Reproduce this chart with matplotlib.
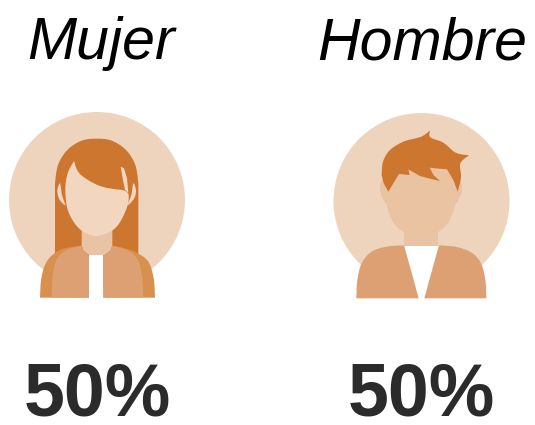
import matplotlib
matplotlib.use("Agg")
import matplotlib.pyplot as plt
import numpy as np
from matplotlib.patches import Circle, Polygon

labels = ['Mujer', 'Hombre']
percentages = [50, 50]

BACK = '#efd4bd'
HAIR = '#cd762f'
SKIN_W = '#f2d6c0'
SKIN_M = '#eac3a3'
NECK = '#e8c3a5'
COAT = '#dca072'
COAT_DARK = '#d8904f'
TEXT = '#2b2b2b'

def smooth(points, closed=True, n=14):
    # catmull-rom through the outline points, only used for the icon shapes
    pts = np.array(points, dtype=float)
    if closed:
        pts = np.vstack([pts[-1], pts, pts[0], pts[1]])
    else:
        pts = np.vstack([pts[0], pts, pts[-1]])
    out = []
    for i in range(1, len(pts) - 2):
        p0, p1, p2, p3 = pts[i - 1], pts[i], pts[i + 1], pts[i + 2]
        for t in np.linspace(0, 1, n, endpoint=False):
            out.append(0.5 * (2 * p1 + (p2 - p0) * t + (2 * p0 - 5 * p1 + 4 * p2 - p3) * t ** 2
                              + (3 * p1 - p0 - 3 * p2 + p3) * t ** 3))
    if not closed:
        out.append(pts[-1])
    return [tuple(p) for p in out]

def shape(ax, points, color, ox, curved=True, z=2):
    # points are in 3x crop coordinates of the icon box
    pts = np.array(smooth(points) if curved else points, dtype=float)
    pts = pts / 3 + [ox, 100]
    ax.add_patch(Polygon(pts, closed=True, facecolor=color, edgecolor='none', zorder=z))

def drawWoman(ax, ox):
    ax.add_patch(Circle((ox + 97, 200), 88, facecolor=BACK, edgecolor='none', zorder=1))
    # hair
    top = smooth([(165, 250), (174, 195), (202, 150), (245, 122), (290, 116), (335, 122), (378, 150), (406, 195), (415, 250)],
                 closed=False)
    shape(ax, [(165, 470)] + top + [(415, 470)], HAIR, ox, curved=False, z=2)
    # ears
    shape(ax, [(180, 250), (172, 272), (178, 298), (196, 316), (186, 285)], SKIN_W, ox, z=3)
    shape(ax, [(400, 250), (408, 272), (402, 296), (382, 316), (394, 285)], SKIN_W, ox, z=3)
    # neck
    shape(ax, [(245, 370), (337, 370), (337, 437), (332, 452), (312, 466), (290, 471), (268, 466), (250, 452), (245, 437)],
          NECK, ox, curved=False, z=3)
    # face with the fringe cut out of its top
    fringe = smooth([(222, 183), (240, 222), (300, 258), (372, 271)], closed=False, n=10)
    jaw = smooth([(372, 271), (386, 285), (378, 330), (345, 385), (290, 408), (240, 388), (205, 335), (196, 270), (203, 220), (222, 183)],
                 closed=False, n=10)
    shape(ax, fringe + jaw, SKIN_W, ox, curved=False, z=4)
    shape(ax, [(362, 200), (372, 205), (381, 235), (385, 278), (375, 270), (368, 235)], SKIN_W, ox, curved=False, z=4)
    # shirt
    shape(ax, [(267, 465), (310, 465), (310, 593), (267, 593)], '#ffffff', ox, curved=False, z=3)
    # jacket
    outerL = smooth([(120, 593), (124, 535), (140, 485), (175, 452), (215, 441), (245, 437)], closed=False)
    outerR = smooth([(465, 593), (461, 535), (445, 485), (410, 458), (375, 445), (337, 437)], closed=False)
    shape(ax, outerL + [(250, 452), (267, 468), (267, 593)], COAT_DARK, ox, curved=False, z=5)
    shape(ax, outerR + [(332, 452), (310, 468), (310, 593)], COAT_DARK, ox, curved=False, z=5)
    innerL = smooth([(155, 593), (158, 530), (170, 478), (200, 450), (245, 437)], closed=False)
    innerR = smooth([(430, 593), (426, 530), (413, 478), (380, 450), (337, 437)], closed=False)
    shape(ax, innerL + [(250, 452), (267, 468), (267, 593)], COAT, ox, curved=False, z=6)
    shape(ax, innerR + [(332, 452), (310, 468), (310, 593)], COAT, ox, curved=False, z=6)

def drawMan(ax, ox):
    ax.add_patch(Circle((ox + 96.5, 201), 88, facecolor=BACK, edgecolor='none', zorder=1))
    # ears
    shape(ax, [(175, 235), (165, 262), (172, 295), (190, 312), (195, 270)], NECK, ox, z=2)
    shape(ax, [(400, 235), (412, 262), (405, 290), (390, 312), (385, 270)], NECK, ox, z=2)
    # neck
    shape(ax, [(236, 370), (340, 370), (340, 440), (236, 440)], NECK, ox, curved=False, z=3)
    # face, the top corners stay hidden under the hair
    face = smooth([(182, 240), (184, 310), (215, 380), (288, 414), (360, 380), (392, 310), (396, 240)], closed=False)
    shape(ax, face + [(396, 170), (182, 170)], SKIN_M, ox, curved=False, z=4)
    # hair
    crown = smooth([(170, 225), (174, 185), (195, 150), (235, 125), (272, 115), (293, 108), (315, 92)], closed=False, n=8)
    front = smooth([(315, 92), (316, 112), (355, 128), (392, 158), (432, 166)], closed=False, n=8)
    side = smooth([(432, 166), (406, 190), (408, 232), (398, 275)], closed=False, n=8)
    cut = [(385, 240), (366, 208), (342, 206), (314, 203), (326, 226), (345, 243), (315, 236), (285, 228), (250, 208), (254, 225), (222, 222),
           (208, 245), (190, 275), (176, 250)]
    shape(ax, crown + front + side + cut, HAIR, ox, curved=False, z=5)
    # jacket
    coatL = smooth([(94, 595), (97, 540), (110, 490), (140, 455), (185, 440), (237, 436)], closed=False)
    coatR = smooth([(484, 595), (481, 540), (468, 490), (440, 458), (395, 441), (342, 436)], closed=False)
    shape(ax, coatL + [(281, 595)], COAT, ox, curved=False, z=6)
    shape(ax, coatR + [(298, 595)], COAT, ox, curved=False, z=6)
    shape(ax, [(237, 438), (342, 438), (298, 595), (281, 595)], '#ffffff', ox, curved=False, z=5.5)

def main():
    fig = plt.figure(figsize=(5.35, 4.25), dpi=100)
    ax = fig.add_axes([0, 0, 1, 1])
    ax.set_xlim(0, 535)
    ax.set_ylim(425, 0)
    ax.axis('off')

    drawWoman(ax, 0)
    drawMan(ax, 325)

    labelX = [101, 422]
    pctX = [97, 421]
    for i in range(2):
        ax.text(labelX[i], 59, labels[i], fontsize=42.5, fontstyle='italic', family='Liberation Sans',
                color='black', ha='center', va='baseline')
        ax.text(pctX[i], 416, f'{percentages[i]}%', fontsize=53, fontweight='bold', family='Liberation Sans',
                color=TEXT, ha='center', va='baseline')

    fig.savefig('out.png', dpi=100)

if __name__ == "__main__":
    main()
